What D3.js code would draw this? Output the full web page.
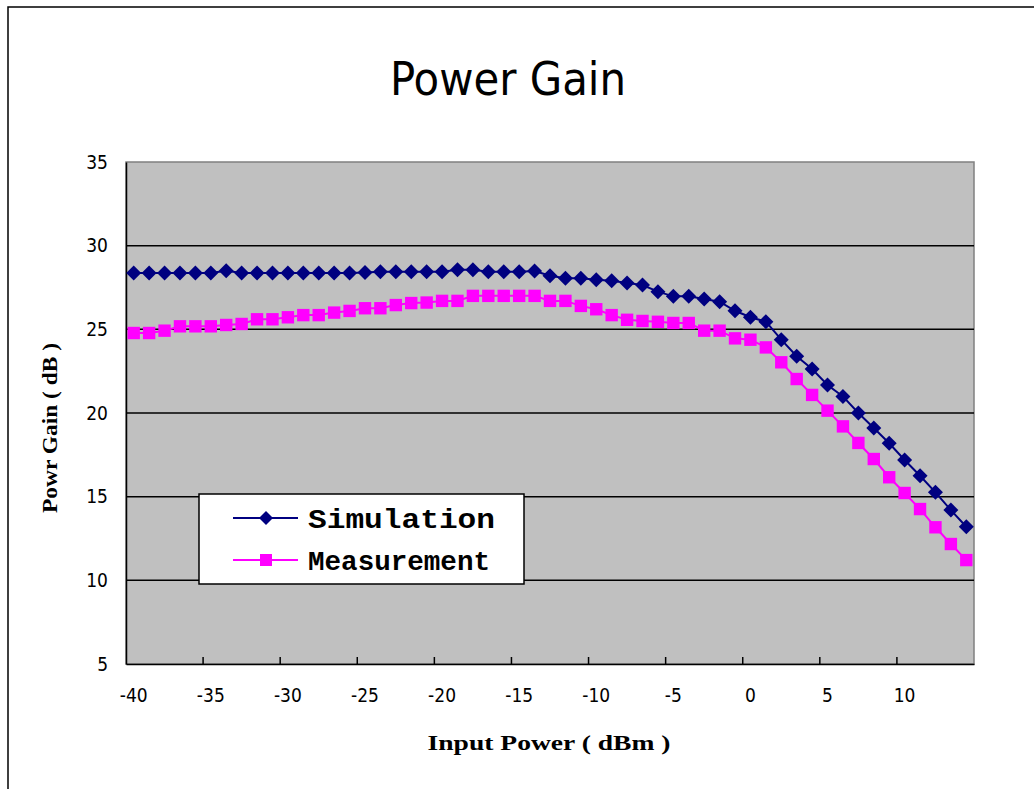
<!DOCTYPE html>
<html>
<head>
<meta charset="utf-8">
<script src="https://cdn.jsdelivr.net/npm/d3@7/dist/d3.min.js"></script>
<style>
  html, body { margin: 0; padding: 0; background: #fff; }
  svg { display: block; }
  .narrow { font-family: 'DejaVu Sans Condensed', 'DejaVu Sans', sans-serif; font-stretch: condensed; }
</style>
</head>
<body>
<svg id="chart" width="1034" height="789"></svg>
<script>
// Input power sweep, 1 dBm steps
const inputPower = d3.range(-40, 15);

// Simulated power gain (dB)
const simulation = [
  28.37, 28.37, 28.37, 28.37, 28.37, 28.37, 28.50, 28.37, 28.37, 28.37,
  28.37, 28.37, 28.37, 28.37, 28.37, 28.40, 28.44, 28.44, 28.44, 28.44,
  28.44, 28.56, 28.56, 28.44, 28.44, 28.44, 28.49, 28.20, 28.05, 28.05,
  27.97, 27.90, 27.77, 27.65, 27.25, 26.97, 26.97, 26.81, 26.65, 26.11,
  25.72, 25.46, 24.38, 23.39, 22.63, 21.67, 20.99, 20.00, 19.10, 18.19,
  17.19, 16.25, 15.26, 14.20, 13.20
];

// Measured power gain (dB)
const measurement = [
  24.78, 24.78, 24.92, 25.18, 25.18, 25.18, 25.26, 25.32, 25.60, 25.60,
  25.72, 25.85, 25.85, 26.00, 26.10, 26.26, 26.26, 26.45, 26.57, 26.60,
  26.70, 26.70, 27.00, 27.00, 27.00, 27.00, 27.00, 26.70, 26.70, 26.40,
  26.20, 25.85, 25.57, 25.50, 25.45, 25.38, 25.38, 24.92, 24.92, 24.46,
  24.38, 23.92, 23.03, 22.03, 21.08, 20.14, 19.20, 18.21, 17.25, 16.16,
  15.22, 14.26, 13.17, 12.17, 11.21
];

const xTickLabels = [-40, -35, -30, -25, -20, -15, -10, -5, 0, 5, 10];
const yTickLabels = [5, 10, 15, 20, 25, 30, 35];
const yGridValues = [10, 15, 20, 25, 30];

const seriesNames = ["Simulation", "Measurement"];
const seriesColors = ["#000080", "#FF00FF"];

const svg = d3.select("#chart");

// Outer chart frame
svg.append("rect")
  .attr("x", 8).attr("y", 7)
  .attr("width", 1060).attr("height", 820)
  .attr("fill", "#fff")
  .attr("stroke", "#000").attr("stroke-width", 1.5);

const plot = { left: 126, right: 974, top: 162, bottom: 664 };

const x = d3.scaleBand()
  .domain(inputPower)
  .range([plot.left, plot.right])
  .padding(0);
const cx = d => x(d) + x.bandwidth() / 2;

const y = d3.scaleLinear()
  .domain([5, 35])
  .range([plot.bottom, plot.top]);

// Plot area
svg.append("rect")
  .attr("x", plot.left).attr("y", plot.top)
  .attr("width", plot.right - plot.left)
  .attr("height", plot.bottom - plot.top)
  .attr("fill", "#C0C0C0")
  .attr("stroke", "#808080").attr("stroke-width", 1.5);

// Horizontal gridlines
svg.append("g")
  .selectAll("line")
  .data(yGridValues)
  .join("line")
  .attr("x1", plot.left).attr("x2", plot.right)
  .attr("y1", d => y(d)).attr("y2", d => y(d))
  .attr("stroke", "#000").attr("stroke-width", 1.5);

// Y axis
const yAxis = svg.append("g")
  .attr("transform", `translate(${plot.left},0)`)
  .call(d3.axisLeft(y).tickValues(yTickLabels).tickSize(0).tickPadding(18));
yAxis.select(".domain").attr("stroke", "#000").attr("stroke-width", 1.5);
yAxis.selectAll("text")
  .attr("class", "narrow")
  .attr("font-family", null)
  .attr("font-size", 19)
  .attr("fill", "#000");

// X axis labels at category centres
const xAxis = svg.append("g")
  .attr("transform", `translate(0,${plot.bottom})`)
  .call(d3.axisBottom(x).tickValues(xTickLabels).tickSize(0).tickPadding(25));
xAxis.select(".domain").attr("stroke", "#000").attr("stroke-width", 1.5);
xAxis.selectAll("text")
  .attr("class", "narrow")
  .attr("font-size", 19)
  .attr("fill", "#000");
xAxis.attr("font-family", null);
yAxis.attr("font-family", null);

// X tick marks between category groups
svg.append("g")
  .selectAll("line")
  .data(xTickLabels.slice(1))
  .join("line")
  .attr("x1", d => x(d)).attr("x2", d => x(d))
  .attr("y1", plot.bottom).attr("y2", plot.bottom - 7)
  .attr("stroke", "#000").attr("stroke-width", 1.5);

// Marker shapes
const diamondPath = r => `M0,${-r}L${r},0L0,${r}L${-r},0Z`;
const squarePath = s => `M${-s},${-s}H${s}V${s}H${-s}Z`;

function drawSeries(values, color, markerPath) {
  const pts = inputPower.map((p, i) => [cx(p), y(values[i])]);
  svg.append("path")
    .datum(pts)
    .attr("d", d3.line())
    .attr("fill", "none")
    .attr("stroke", color).attr("stroke-width", 2);
  svg.append("g")
    .selectAll("path")
    .data(pts)
    .join("path")
    .attr("transform", d => `translate(${d[0]},${d[1]})`)
    .attr("d", markerPath)
    .attr("fill", color);
}

drawSeries(measurement, seriesColors[1], squarePath(6.2));
drawSeries(simulation, seriesColors[0], diamondPath(7.5));

// Title
svg.append("text")
  .attr("class", "narrow")
  .attr("x", 508).attr("y", 95)
  .attr("text-anchor", "middle")
  .attr("font-size", 46)
  .attr("textLength", 236)
  .attr("lengthAdjust", "spacingAndGlyphs")
  .attr("fill", "#000")
  .text("Power Gain");

// Axis titles
svg.append("text")
  .attr("x", 549).attr("y", 750)
  .attr("text-anchor", "middle")
  .attr("font-family", "'Liberation Serif', 'DejaVu Serif', serif")
  .attr("font-weight", "bold")
  .attr("font-size", 21)
  .attr("textLength", 243)
  .attr("lengthAdjust", "spacingAndGlyphs")
  .attr("fill", "#000")
  .text("Input Power ( dBm )");

svg.append("text")
  .attr("transform", "translate(57,428) rotate(-90)")
  .attr("text-anchor", "middle")
  .attr("font-family", "'Liberation Serif', 'DejaVu Serif', serif")
  .attr("font-weight", "bold")
  .attr("font-size", 20)
  .attr("textLength", 170)
  .attr("lengthAdjust", "spacingAndGlyphs")
  .attr("fill", "#000")
  .text("Powr Gain ( dB )");

// Legend
const legend = svg.append("g");
legend.append("rect")
  .attr("x", 199).attr("y", 494)
  .attr("width", 325).attr("height", 90)
  .attr("fill", "#fff")
  .attr("stroke", "#000").attr("stroke-width", 1.5);

const legendRows = [
  { name: seriesNames[0], color: seriesColors[0], marker: diamondPath(7), y: 518, len: 187 },
  { name: seriesNames[1], color: seriesColors[1], marker: squarePath(6), y: 560, len: 182 }
];
legendRows.forEach(r => {
  legend.append("line")
    .attr("x1", 233).attr("x2", 298)
    .attr("y1", r.y).attr("y2", r.y)
    .attr("stroke", r.color).attr("stroke-width", 2);
  legend.append("path")
    .attr("transform", `translate(266,${r.y})`)
    .attr("d", r.marker)
    .attr("fill", r.color);
  legend.append("text")
    .attr("x", 308).attr("y", r.y + 10)
    .attr("font-family", "'Liberation Mono', 'DejaVu Sans Mono', monospace")
    .attr("font-weight", "bold")
    .attr("font-size", 27)
    .attr("textLength", r.len)
    .attr("lengthAdjust", "spacingAndGlyphs")
    .attr("fill", "#000")
    .text(r.name);
});
</script>
</body>
</html>
